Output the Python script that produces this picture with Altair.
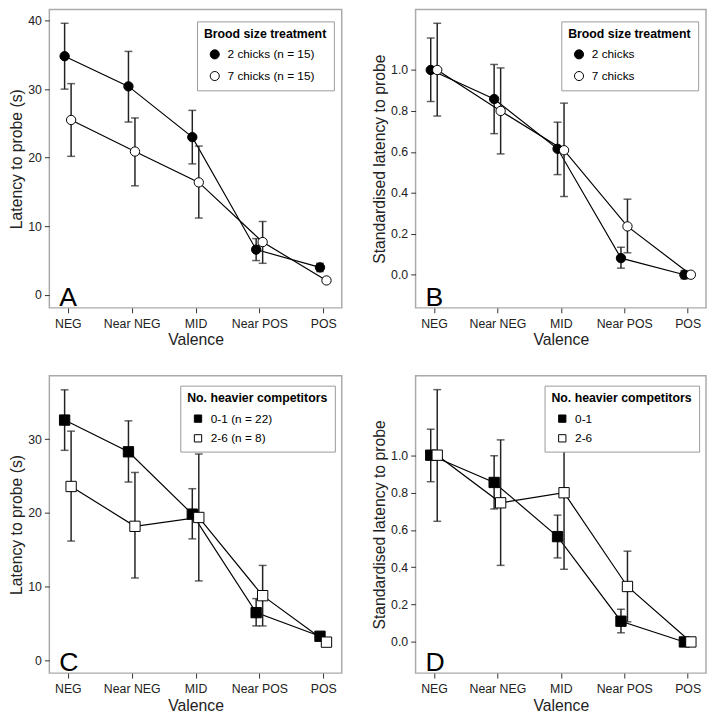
import altair as alt
import pandas as pd

valence = ["NEG", "Near NEG", "MID", "Near POS", "POS"]

# Panel A: latency, brood size
a_labels = ["2 chicks (n = 15)", "7 chicks (n = 15)"]
a_mean_1 = [34.8, 30.4, 23.0, 6.6, 4.0]
a_lo_1 = [30.0, 25.2, 19.1, 5.0, 3.4]
a_hi_1 = [39.6, 35.5, 26.9, 8.2, 4.6]
a_mean_2 = [25.5, 20.9, 16.4, 7.7, 2.1]
a_lo_2 = [20.2, 15.9, 11.2, 4.6, 1.8]
a_hi_2 = [30.8, 25.8, 21.7, 10.7, 2.4]

# Panel B: standardised latency, brood size
b_labels = ["2 chicks", "7 chicks"]
b_mean_1 = [1.0, 0.858, 0.615, 0.081, 0.0]
b_lo_1 = [0.846, 0.689, 0.489, 0.032, -0.02]
b_hi_1 = [1.156, 1.027, 0.745, 0.134, 0.02]
b_mean_2 = [1.0, 0.80, 0.608, 0.236, 0.0]
b_lo_2 = [0.775, 0.59, 0.382, 0.107, 0.0]
b_hi_2 = [1.228, 1.01, 0.838, 0.369, 0.0]

# Panel C: latency, heavier competitors
c_labels = ["0-1 (n = 22)", "2-6 (n = 8)"]
c_mean_1 = [32.6, 28.3, 19.85, 6.5, 3.3]
c_lo_1 = [28.5, 24.2, 16.5, 4.7, 3.0]
c_hi_1 = [36.7, 32.5, 23.3, 8.4, 3.6]
c_mean_2 = [23.6, 18.2, 19.4, 8.8, 2.5]
c_lo_2 = [16.2, 11.2, 10.8, 4.7, 2.3]
c_hi_2 = [31.1, 25.5, 28.0, 12.9, 2.7]

# Panel D: standardised latency, heavier competitors
d_labels = ["0-1", "2-6"]
d_mean_1 = [1.0, 0.854, 0.564, 0.111, 0.0]
d_lo_1 = [0.858, 0.712, 0.45, 0.049, 0.0]
d_hi_1 = [1.139, 0.997, 0.679, 0.175, 0.0]
d_mean_2 = [1.0, 0.745, 0.799, 0.297, 0.0]
d_lo_2 = [0.646, 0.41, 0.389, 0.108, 0.0]
d_hi_2 = [1.351, 1.082, 1.209, 0.486, 0.0]

letters = ["A", "B", "C", "D"]

FONT = "Liberation Sans"


def panel(letter, labels, m1, lo1, hi1, m2, lo2, hi2, shape, ytitle, domain,
          ticks, fmt, legend_title, width, height, legend_w, legend_y,
          pt_size, leg_size):
    fld = "series" + letter
    rows = []
    for lab, m, lo, hi in ((labels[0], m1, lo1, hi1), (labels[1], m2, lo2, hi2)):
        for v, a, b, c in zip(valence, m, lo, hi):
            rows.append({"valence": v, fld: lab, "mean": a, "lo": b, "hi": c})
    df = pd.DataFrame(rows)
    base = alt.Chart(df)
    x = alt.X("valence:O", sort=valence,
              scale=alt.Scale(type="point", padding=0.29),
              axis=alt.Axis(title="Valence", labelAngle=0, labelPadding=5,
                            titlePadding=2))
    yscale = alt.Scale(domain=domain, nice=False, zero=False)
    yaxis = alt.Axis(title=ytitle, values=ticks, format=fmt, labelPadding=3,
                     titlePadding=3)
    layers = []
    points = []
    for lab, d in ((labels[0], -3.3), (labels[1], 3.3)):
        sub = base.transform_filter(alt.datum[fld] == lab)
        layers.append(sub.mark_line(color="black", strokeWidth=1.2, xOffset=d).encode(
            x=x, y=alt.Y("mean:Q", scale=yscale, axis=yaxis)))
        layers.append(sub.mark_rule(color="#222", strokeWidth=1.5, xOffset=d).encode(
            x=x, y=alt.Y("lo:Q", scale=yscale, axis=yaxis), y2="hi:Q"))
        layers.append(sub.mark_tick(color="#222", thickness=1.5, size=8, xOffset=d).encode(
            x=x, y=alt.Y("lo:Q", scale=yscale, axis=yaxis)))
        layers.append(sub.mark_tick(color="#222", thickness=1.5, size=8, xOffset=d).encode(
            x=x, y=alt.Y("hi:Q", scale=yscale, axis=yaxis)))
        points.append(sub.mark_point(shape=shape, filled=True, size=pt_size,
                                     stroke="black", strokeWidth=1, opacity=1,
                                     xOffset=d).encode(
            x=x, y=alt.Y("mean:Q", scale=yscale, axis=yaxis),
            fill=alt.Fill(fld + ":N",
                          scale=alt.Scale(domain=labels, range=["black", "white"]),
                          legend=alt.Legend(
                              title=legend_title, orient="none",
                              legendX=width - legend_w - 12, legendY=legend_y,
                              fillColor="white", strokeColor="#999999",
                              padding=7, titlePadding=8, rowPadding=8,
                              titleFont=FONT, titleFontSize=12.5,
                              titleFontWeight="bold", titleColor="black",
                              labelFont=FONT, labelFontSize=12,
                              labelColor="black", labelOffset=7,
                              symbolType=shape, symbolSize=leg_size,
                              symbolStrokeColor="black", symbolStrokeWidth=1,
                              symbolOffset=5))))
    txt = alt.Chart(pd.DataFrame({"letter": [letter]})).mark_text(
        align="left", baseline="alphabetic", font=FONT, fontSize=27,
        color="black").encode(text="letter:N", x=alt.value(10),
                              y=alt.value(height - 2))
    return alt.layer(*layers, *points, txt).properties(width=width, height=height)


pA = panel(letters[0], a_labels, a_mean_1, a_lo_1, a_hi_1, a_mean_2, a_lo_2, a_hi_2,
           "circle", "Latency to probe (s)", [-1.9, 41.6], [0, 10, 20, 30, 40], "d",
           "Brood size treatment", 297, 303, 135, 12, 90, 85)
pB = panel(letters[1], b_labels, b_mean_1, b_lo_1, b_hi_1, b_mean_2, b_lo_2, b_hi_2,
           "circle", "Standardised latency to probe", [-0.162, 1.295],
           [0, 0.2, 0.4, 0.6, 0.8, 1.0], ".1f",
           "Brood size treatment", 295, 303, 135, 12, 90, 85)
pC = panel(letters[2], c_labels, c_mean_1, c_lo_1, c_hi_1, c_mean_2, c_lo_2, c_hi_2,
           "square", "Latency to probe (s)", [-1.7, 38.6], [0, 10, 20, 30], "d",
           "No. heavier competitors", 297, 302, 152, 10, 110, 55)
pD = panel(letters[3], d_labels, d_mean_1, d_lo_1, d_hi_1, d_mean_2, d_lo_2, d_hi_2,
           "square", "Standardised latency to probe", [-0.167, 1.425],
           [0, 0.2, 0.4, 0.6, 0.8, 1.0], ".1f",
           "No. heavier competitors", 295, 302, 152, 10, 110, 55)

row1 = alt.hconcat(pA, pB, spacing=28).resolve_scale(fill="independent").resolve_legend(fill="independent")
row2 = alt.hconcat(pC, pD, spacing=28).resolve_scale(fill="independent").resolve_legend(fill="independent")

chart = alt.vconcat(row1, row2, spacing=26).resolve_scale(
    fill="independent").resolve_legend(fill="independent").properties(
    padding={"left": 0, "top": -5, "right": 0, "bottom": 0}).configure_view(
    stroke="#aaaaaa", strokeWidth=1.5
).configure_axis(
    domain=False, grid=False, tickColor="#333333", tickSize=5, tickWidth=1,
    labelFont=FONT, labelFontSize=12.5, labelColor="#222222",
    titleFont=FONT, titleFontSize=16, titleFontWeight="normal", titleColor="#222222"
)

chart.save("out.html", embed_options={"renderer": "svg", "actions": False})
